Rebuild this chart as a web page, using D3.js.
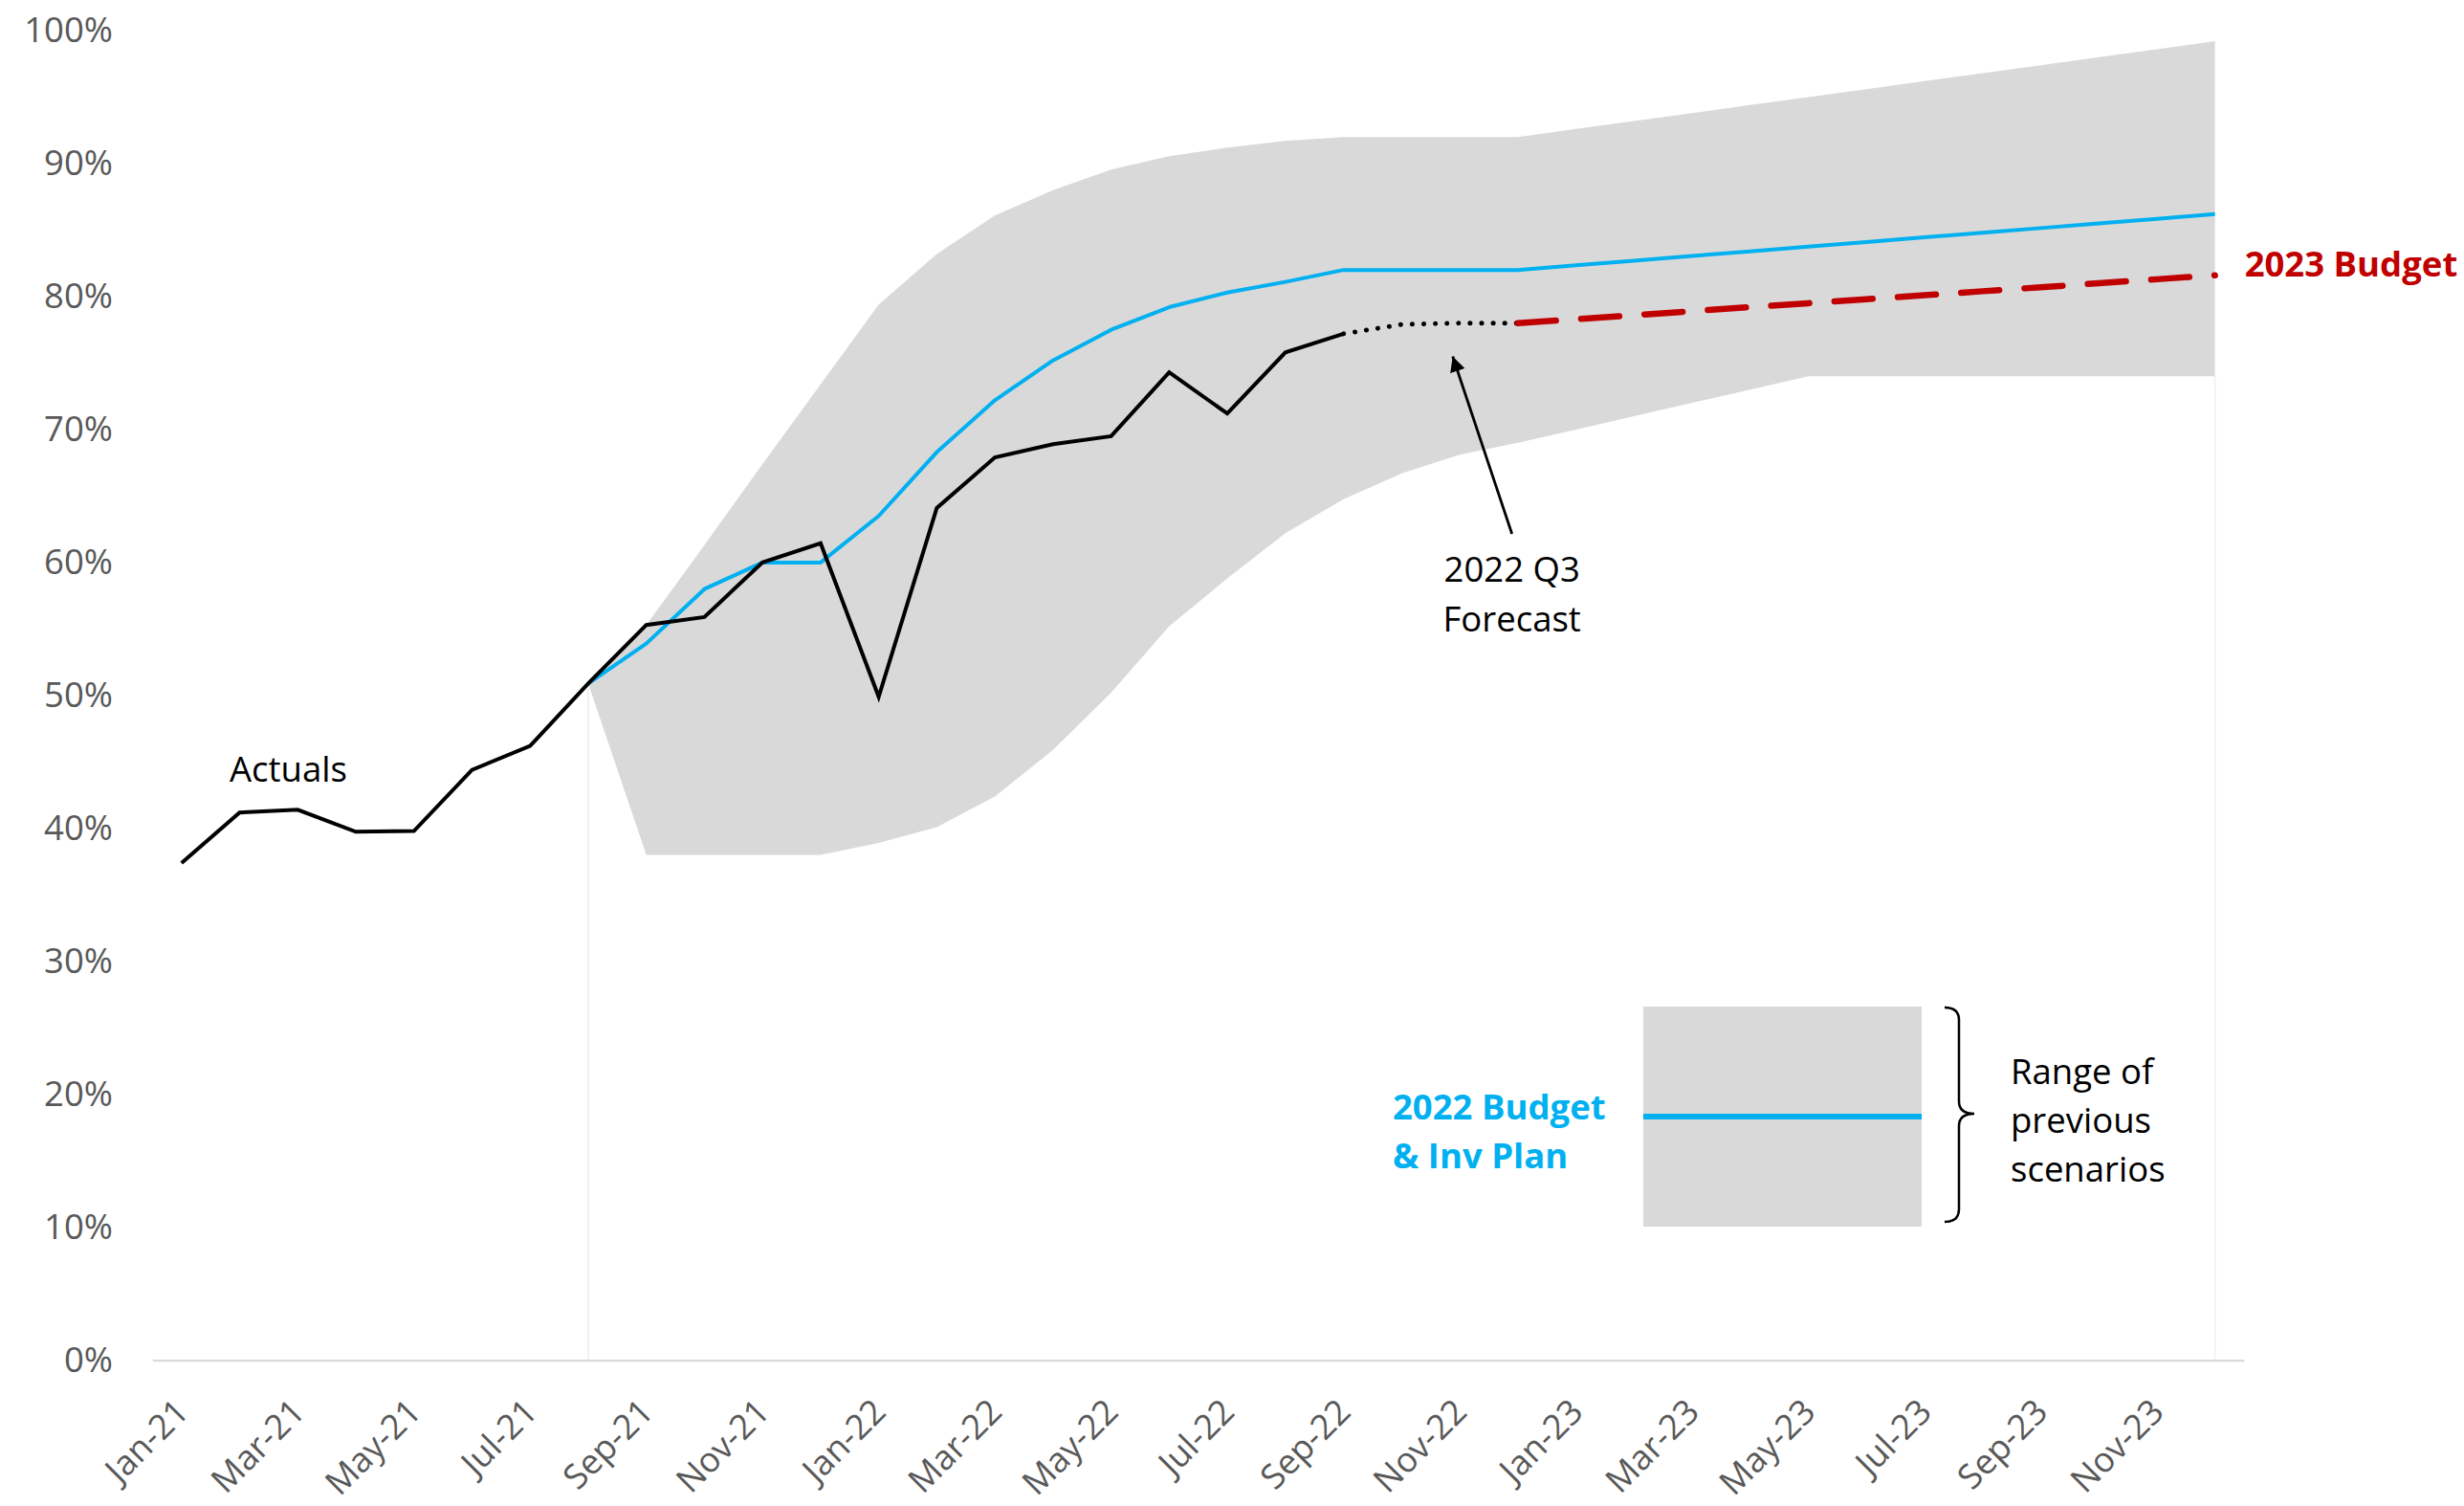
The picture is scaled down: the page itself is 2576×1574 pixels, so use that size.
<!DOCTYPE html>
<html>
<head>
<meta charset="utf-8">
<script src="https://cdn.jsdelivr.net/npm/d3@7"></script>
<style>
  html, body { margin: 0; padding: 0; background: #ffffff; }
  svg { display: block; font-family: "Open Sans", sans-serif; }
</style>
</head>
<body>
<svg id="chart" width="2576" height="1574"></svg>
<script>
// ---- Data -------------------------------------------------------------
const months = [
  "Jan-21","Feb-21","Mar-21","Apr-21","May-21","Jun-21","Jul-21","Aug-21","Sep-21","Oct-21","Nov-21","Dec-21",
  "Jan-22","Feb-22","Mar-22","Apr-22","May-22","Jun-22","Jul-22","Aug-22","Sep-22","Oct-22","Nov-22","Dec-22",
  "Jan-23","Feb-23","Mar-23","Apr-23","May-23","Jun-23","Jul-23","Aug-23","Sep-23","Oct-23","Nov-23","Dec-23"
];
const xTickLabels = ["Jan-21","Mar-21","May-21","Jul-21","Sep-21","Nov-21","Jan-22","Mar-22","May-22","Jul-22",
  "Sep-22","Nov-22","Jan-23","Mar-23","May-23","Jul-23","Sep-23","Nov-23"];
const yTickValues = [0, 10, 20, 30, 40, 50, 60, 70, 80, 90, 100];

// Actuals, Jan-21 .. Sep-22 (%)
const actualsStart = "Jan-21";
const actualsValues = [37.4, 41.2, 41.4, 39.75, 39.8, 44.4, 46.2, 50.9, 55.3, 55.9, 60.0, 61.45,
  49.9, 64.1, 67.9, 68.9, 69.5, 74.3, 71.2, 75.8, 77.2];

// 2022 Q3 forecast, Sep-22 .. Dec-22 (%)
const q3ForecastStart = "Sep-22";
const q3ForecastValues = [77.2, 77.9, 78.0, 78.0];

// 2023 Budget, Dec-22 .. Dec-23 (%)
const budget2023Start = "Dec-22";
const budget2023Values = [78.0, 78.3, 78.6, 78.9, 79.2, 79.5, 79.8, 80.1, 80.4, 80.7, 81.0, 81.3, 81.6];

// 2022 Budget & Inv Plan, Aug-21 .. Dec-23 (%)
const plan2022Start = "Aug-21";
const plan2022Values = [50.9, 53.9, 58.0, 60.0, 60.0, 63.5, 68.3, 72.2, 75.2, 77.5, 79.2, 80.3, 81.1,
  82.0, 82.0, 82.0, 82.0, 82.35, 82.7, 83.05, 83.4, 83.75, 84.1, 84.45, 84.8, 85.15, 85.5, 85.85, 86.2];

// Range of previous scenarios, Aug-21 .. Dec-23 (%)
const rangeStart = "Aug-21";
const rangeLow = [50.9, 38.0, 38.0, 38.0, 38.0, 38.9, 40.1, 42.4, 45.9, 50.2, 55.2, 58.8, 62.2,
  64.75, 66.7, 68.1, 69.0, 70.0, 71.0, 72.0, 73.0, 74.0, 74.0, 74.0, 74.0, 74.0, 74.0, 74.0, 74.0];
const rangeHigh = [50.9, 55.3, 61.3, 67.4, 73.4, 79.4, 83.2, 86.1, 88.0, 89.55, 90.55, 91.2, 91.7,
  92.0, 92.0, 92.0, 92.0, 92.6, 93.2, 93.8, 94.4, 95.0, 95.6, 96.2, 96.8, 97.4, 98.0, 98.6, 99.2];

// ---- Helpers ----------------------------------------------------------
function series(start, values) {
  const s = months.indexOf(start);
  return values.map((v, i) => ({ m: months[s + i], v }));
}
const rangeData = rangeLow.map((lo, i) => ({
  m: months[months.indexOf(rangeStart) + i], lo, hi: rangeHigh[i]
}));

// ---- Layout -----------------------------------------------------------
const svg = d3.select("#chart");
const FONT = 36.5;
const TICK_FONT = 36;
const plotLeft = 159.4, plotRight = 2346, plotBottom = 1421.7, plotTop = 32;

const x = d3.scalePoint().domain(months).range([plotLeft, plotRight]).padding(0.5);
const y = d3.scaleLinear().domain([0, 100]).range([plotBottom, plotTop]);
const step = x.step();
// fractional position along the month axis (index may be non-integer)
const xAt = i => x(months[0]) + i * step;

// ---- Range band -------------------------------------------------------
const band = d3.area()
  .x(d => x(d.m))
  .y0(d => y(d.lo))
  .y1(d => y(d.hi));
svg.append("path").datum(rangeData)
  .attr("d", band)
  .attr("fill", "#D9D9D9");

// faint edges of the blank area beneath the band
[rangeData[0], rangeData[rangeData.length - 1]].forEach(d => {
  svg.append("line")
    .attr("x1", x(d.m)).attr("x2", x(d.m))
    .attr("y1", y(0)).attr("y2", y(d.lo))
    .attr("stroke", "#EEEEEE").attr("stroke-width", 1.5);
});

// ---- Axes -------------------------------------------------------------
const yAxis = d3.axisLeft(y)
  .tickValues(yTickValues)
  .tickFormat(d => d + "%")
  .tickSize(0)
  .tickPadding(plotLeft - 118);
const gy = svg.append("g").attr("transform", `translate(${plotLeft},0)`).call(yAxis);
gy.select(".domain").remove();
gy.selectAll("text")
  .attr("font-family", "Open Sans").attr("font-size", FONT)
  .attr("fill", "#595959");

const xAxis = d3.axisBottom(x)
  .tickValues(xTickLabels)
  .tickSize(0)
  .tickSizeOuter(0);
const gx = svg.append("g").attr("transform", `translate(0,${plotBottom})`).call(xAxis);
gx.select(".domain").attr("stroke", "#D9D9D9").attr("stroke-width", 2.2);
gx.selectAll("text")
  .attr("font-family", "Open Sans").attr("font-size", TICK_FONT)
  .attr("fill", "#595959")
  .attr("text-anchor", "end")
  .attr("x", 0).attr("y", 0).attr("dy", 0)
  .attr("transform", "translate(9,56) rotate(-45)");

// ---- Lines ------------------------------------------------------------
const line = d3.line().x(d => x(d.m)).y(d => y(d.v));

svg.append("path").datum(series(plan2022Start, plan2022Values))
  .attr("d", line).attr("fill", "none")
  .attr("stroke", "#00B0F0").attr("stroke-width", 4)
  .attr("stroke-linejoin", "round");

svg.append("path").datum(series(actualsStart, actualsValues))
  .attr("d", line).attr("fill", "none")
  .attr("stroke", "#000000").attr("stroke-width", 4)
  .attr("stroke-linejoin", "miter");

svg.append("path").datum(series(q3ForecastStart, q3ForecastValues))
  .attr("d", line).attr("fill", "none")
  .attr("stroke", "#000000").attr("stroke-width", 5)
  .attr("stroke-linecap", "round")
  .attr("stroke-dasharray", "0.1 12");

const redPath = svg.append("path").datum(series(budget2023Start, budget2023Values))
  .attr("d", line).attr("fill", "none")
  .attr("stroke", "#C00000").attr("stroke-width", 6.5)
  .attr("stroke-linecap", "round");
{
  // long-dash pattern sized so the stroke closes on a dot at its end
  const len = redPath.node().getTotalLength();
  const period = (len - 0.5) / 11;
  redPath.attr("stroke-dasharray", `40 ${period - 40}`);
}

// ---- Annotations ------------------------------------------------------
const text = (sel, str, px, py, opts = {}) => sel.append("text")
  .attr("x", px).attr("y", py)
  .attr("font-family", "Open Sans").attr("font-size", FONT)
  .attr("font-weight", opts.weight || "normal")
  .attr("fill", opts.fill || "#000000")
  .attr("text-anchor", opts.anchor || "start")
  .text(str);

text(svg, "Actuals", 240, 817);

// 2022 Q3 Forecast callout
const calloutX = xAt(22.9);
text(svg, "2022 Q3", calloutX, 608, { anchor: "middle" });
text(svg, "Forecast", calloutX, 660, { anchor: "middle" });

svg.append("defs").append("marker")
  .attr("id", "arrowhead")
  .attr("markerUnits", "userSpaceOnUse")
  .attr("markerWidth", 20).attr("markerHeight", 20)
  .attr("refX", 16).attr("refY", 8)
  .attr("orient", "auto")
  .append("path").attr("d", "M0,0 L16,8 L0,16 Z").attr("fill", "#000000");

svg.append("line")
  .attr("x1", calloutX).attr("y1", 558)
  .attr("x2", xAt(21.88)).attr("y2", y(75.5))
  .attr("stroke", "#000000").attr("stroke-width", 2.8)
  .attr("marker-end", "url(#arrowhead)");

// end label for the 2023 budget line
const lastBudget = series(budget2023Start, budget2023Values).slice(-1)[0];
text(svg, "2023 Budget", x(lastBudget.m) + 31, y(lastBudget.v) + 1,
  { weight: "bold", fill: "#C00000" });

// ---- Legend -----------------------------------------------------------
const legend = svg.append("g");
legend.append("rect")
  .attr("x", 1718).attr("y", 1052)
  .attr("width", 291).attr("height", 230)
  .attr("fill", "#D9D9D9");
legend.append("line")
  .attr("x1", 1718).attr("x2", 2009)
  .attr("y1", 1167).attr("y2", 1167)
  .attr("stroke", "#00B0F0").attr("stroke-width", 6);

text(legend, "2022 Budget", 1456, 1170, { weight: "bold", fill: "#00B0F0" });
text(legend, "& Inv Plan", 1456, 1221, { weight: "bold", fill: "#00B0F0" });

legend.append("path")
  .attr("d", "M2033,1053 Q2048,1053 2048,1066 L2048,1151 Q2048,1164 2064,1164 " +
             "Q2048,1164 2048,1177 L2048,1264 Q2048,1277 2033,1277")
  .attr("fill", "none").attr("stroke", "#000000").attr("stroke-width", 2.5);

text(legend, "Range of", 2102, 1133);
text(legend, "previous", 2102, 1184);
text(legend, "scenarios", 2102, 1235);
</script>
</body>
</html>
